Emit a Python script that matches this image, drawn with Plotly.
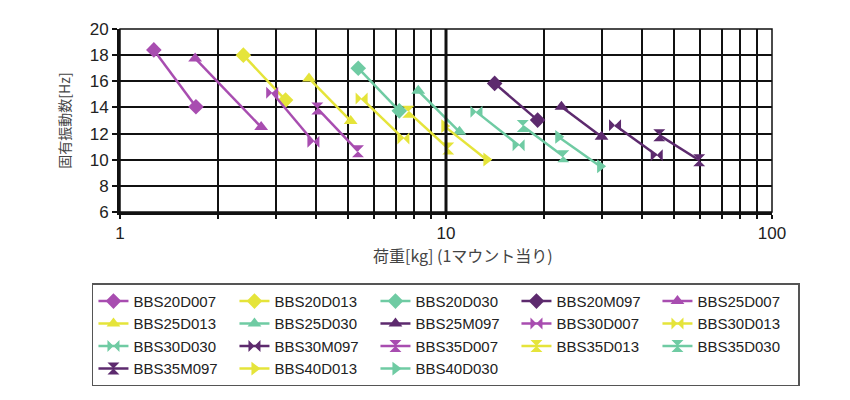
import plotly.graph_objects as go

names = ["BBS20D007", "BBS20D013", "BBS20D030", "BBS20M097", "BBS25D007",
         "BBS25D013", "BBS25D030", "BBS25M097", "BBS30D007", "BBS30D013",
         "BBS30D030", "BBS30M097", "BBS35D007", "BBS35D013", "BBS35D030",
         "BBS35M097", "BBS40D013", "BBS40D030"]

load_kg = {
    "BBS20D007": [1.27, 1.71], "BBS20D013": [2.39, 3.22], "BBS20D030": [5.38, 7.19],
    "BBS20M097": [14.1, 19.1], "BBS25D007": [1.70, 2.71], "BBS25D013": [3.80, 5.10],
    "BBS25D030": [8.22, 11.0], "BBS25M097": [22.6, 30.0], "BBS30D007": [2.93, 3.92],
    "BBS30D013": [5.51, 7.40], "BBS30D030": [12.4, 16.7], "BBS30M097": [33.0, 44.3],
    "BBS35D007": [4.03, 5.37], "BBS35D013": [7.66, 10.16], "BBS35D030": [17.2, 22.9],
    "BBS35M097": [45.1, 59.8], "BBS40D013": [9.88, 13.3], "BBS40D030": [22.1, 29.7],
}
freq_hz = {
    "BBS20D007": [18.4, 14.05], "BBS20D013": [18.0, 14.56], "BBS20D030": [17.0, 13.74],
    "BBS20M097": [15.84, 13.03], "BBS25D007": [17.75, 12.5], "BBS25D013": [16.22, 12.97],
    "BBS25D030": [15.27, 12.13], "BBS25M097": [14.05, 11.75], "BBS30D007": [15.12, 11.37],
    "BBS30D013": [14.69, 11.62], "BBS30D030": [13.66, 11.11], "BBS30M097": [12.64, 10.34],
    "BBS35D007": [13.92, 10.65], "BBS35D013": [13.66, 10.86], "BBS35D030": [12.57, 10.27],
    "BBS35M097": [11.88, 9.96], "BBS40D013": [12.57, 10.02], "BBS40D030": [11.75, 9.50],
}

x_tickvals = [1, 2, 3, 4, 5, 6, 7, 8, 9, 10, 20, 30, 40, 50, 60, 70, 80, 90, 100]
x_ticktext = ["1", "", "", "", "", "", "", "", "", "10", "", "", "", "", "", "", "", "", "100"]
y_tickvals = [6, 8, 10, 12, 14, 16, 18, 20]

colors = {"D007": "#A84DB0", "D013": "#E5E43A", "D030": "#6FCBA3", "M097": "#5D2A6E"}
symbols = {"20": "diamond", "25": "triangle-up", "30": "bowtie", "35": "hourglass", "40": "triangle-right"}

fig = go.Figure()
for n in names:
    c = colors[n[5:]]
    s = symbols[n[3:5]]
    fig.add_trace(go.Scatter(
        x=load_kg[n], y=freq_hz[n], name=n, mode="lines+markers",
        line=dict(color=c, width=2.5),
        marker=dict(symbol=s, size=12, color=c),
    ))

fig.add_shape(type="line", xref="x", yref="paper", x0=10, x1=10, y0=0, y1=1,
              line=dict(color="#111", width=3))
fig.add_shape(type="rect", xref="paper", yref="paper", x0=0, x1=1, y0=0, y1=1,
              line=dict(color="#111", width=1.5))

fig.add_annotation(text="荷重[kg] (1マウント当り)", xref="paper", yref="paper",
                   x=0.526, y=-0.235, xanchor="center", yanchor="middle", showarrow=False,
                   font=dict(size=16, color="#444", family="Noto Sans CJK JP, sans-serif"))

fig.update_layout(
    width=834, height=392,
    margin=dict(l=112, r=70, t=21, b=188, autoexpand=False),
    paper_bgcolor="white", plot_bgcolor="white",
    font=dict(family="Liberation Sans, Arial, sans-serif", color="#222"),
    showlegend=True,
    legend=dict(
        orientation="h", x=-0.043, y=-0.39, xanchor="left", yanchor="top",
        entrywidth=96, entrywidthmode="pixels",
        bordercolor="#555", borderwidth=1.5, bgcolor="white",
        font=dict(size=15, color="#222"), itemwidth=30,
    ),
    xaxis=dict(
        type="log", range=[0, 2], tickvals=x_tickvals, ticktext=x_ticktext,
        showgrid=True, gridcolor="#111", gridwidth=1.5,
        showline=True, linecolor="#111", linewidth=3, mirror=False,
        ticks="outside", ticklen=4, tickcolor="#111", tickwidth=1.5,
        tickfont=dict(size=17, color="#222"),
        zeroline=False,
    ),
    yaxis=dict(
        range=[6, 20], tickvals=y_tickvals,
        showgrid=True, gridcolor="#111", gridwidth=1.5,
        showline=True, linecolor="#111", linewidth=3,
        ticks="outside", ticklen=5, tickcolor="#111", tickwidth=1.5,
        tickfont=dict(size=17, color="#222"),
        title=dict(text="固有振動数[Hz]", font=dict(size=14, color="#444",
                   family="Noto Sans CJK JP, sans-serif"), standoff=16),
        zeroline=False,
    ),
)

fig.write_html("out.html")
